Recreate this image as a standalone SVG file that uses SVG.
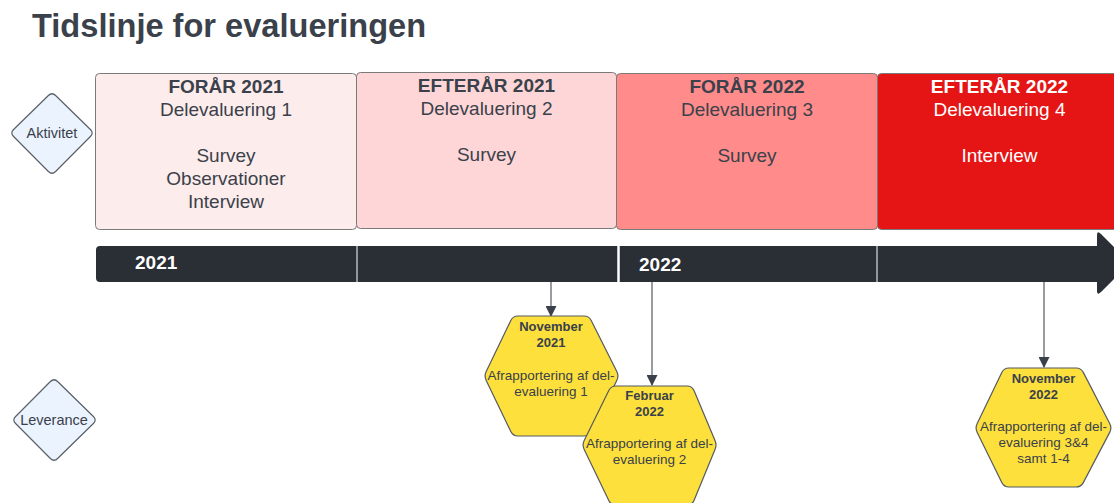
<svg xmlns="http://www.w3.org/2000/svg" width="1114" height="503" viewBox="0 0 1114 503">
<style>
text{font-family:"Liberation Sans",Arial,sans-serif;fill:#3a414a;text-anchor:middle}
.title{font-size:32.6px;font-weight:bold;text-anchor:start}
.hd{font-size:19px;font-weight:bold}
.bt{font-size:19px}
.w{fill:#ffffff}
.box{stroke:#7a7a7a;stroke-width:1}
.hex{fill:#fde03c;stroke:#555a60;stroke-width:1.2;stroke-linejoin:round}
.hb{font-size:13px;font-weight:bold}
.ht{font-size:13.5px}
.dia{fill:#ebf3ff;stroke:#5a5f66;stroke-width:1.2;stroke-linejoin:round}
.dt{font-size:14.5px}
.yr{font-size:19px;font-weight:bold;fill:#ffffff;text-anchor:start}
.conn{stroke:#555a60;stroke-width:1.2;fill:none}
</style>
<defs>
<marker id="ah" markerWidth="11" markerHeight="11" refX="10" refY="5.5" orient="auto" markerUnits="userSpaceOnUse">
<path d="M0,0 L11,5.5 L0,11 Z" fill="#3a414a"/>
</marker>
</defs>
<rect width="1114" height="503" fill="#ffffff"/>
<text class="title" x="32" y="37">Tidslinje for evalueringen</text>

<g id="aktivitet">
<path class="dia" d="M48.4,95.5 Q52,92 55.6,95.5 L90.4,129.5 Q94,133 90.4,136.5 L55.6,171.5 Q52,175 48.4,171.5 L13.6,136.5 Q10,133 13.6,129.5 Z"/>
<text class="dt" x="52" y="138">Aktivitet</text>
</g>
<g id="leverance">
<path class="dia" d="M50.4,381.5 Q54,378 57.6,381.5 L93.4,416.5 Q97,420 93.4,423.5 L57.6,458.5 Q54,462 50.4,458.5 L15.6,423.5 Q12,420 15.6,416.5 Z"/>
<text class="dt" x="54" y="425">Leverance</text>
</g>

<g id="box1">
<rect class="box" x="95.5" y="73.5" width="261" height="156" rx="4" fill="#fdecec"/>
<text class="hd" x="226" y="93">FORÅR 2021</text>
<text class="bt" x="226" y="116">Delevaluering 1</text>
<text class="bt" x="226" y="162">Survey</text>
<text class="bt" x="226" y="185">Observationer</text>
<text class="bt" x="226" y="208">Interview</text>
</g>
<g id="box2">
<rect class="box" x="356.5" y="72.5" width="260" height="156" rx="4" fill="#ffd6d7"/>
<text class="hd" x="486.5" y="92">EFTERÅR 2021</text>
<text class="bt" x="486.5" y="115">Delevaluering 2</text>
<text class="bt" x="486.5" y="161">Survey</text>
</g>
<g id="box3">
<rect class="box" x="616.5" y="73.5" width="261" height="156" rx="4" fill="#ff8b8b"/>
<text class="hd" x="747" y="93">FORÅR 2022</text>
<text class="bt" x="747" y="116">Delevaluering 3</text>
<text class="bt" x="747" y="162">Survey</text>
</g>
<g id="box4">
<rect class="box" x="877.5" y="73.5" width="245" height="156" rx="4" fill="#e61515"/>
<text class="hd w" x="999.5" y="93">EFTERÅR 2022</text>
<text class="bt w" x="999.5" y="116">Delevaluering 4</text>
<text class="bt w" x="999.5" y="162">Interview</text>
</g>

<g id="timeline">
<path d="M100,246 L1097,246 L1097,235 Q1097,230 1101,234 L1127,260 Q1130,263 1127,266 L1101,292 Q1097,296 1097,291 L1097,282 L100,282 Q96,282 96,278 L96,250 Q96,246 100,246 Z" fill="#2a2e35"/>
<line x1="357" y1="246" x2="357" y2="282" stroke="#ffffff" stroke-width="1"/>
<line x1="618.5" y1="246" x2="618.5" y2="282" stroke="#ffffff" stroke-width="2.5"/>
<line x1="877" y1="246" x2="877" y2="282" stroke="#ffffff" stroke-width="1"/>
<text class="yr" x="135" y="269">2021</text>
<text class="yr" x="639" y="271">2022</text>
</g>

<g id="connectors">
<line class="conn" x1="551" y1="282" x2="551" y2="316" marker-end="url(#ah)"/>
<line class="conn" x1="652" y1="282" x2="652" y2="385" marker-end="url(#ah)"/>
<line class="conn" x1="1044" y1="282" x2="1044" y2="367" marker-end="url(#ah)"/>
</g>

<g id="hex1">
<path class="hex" d="M518,316 L584,316 Q589,316 591.2,320.5 L616.8,371.5 Q619,376 616.8,380.5 L591.2,431.5 Q589,436 584,436 L518,436 Q513,436 510.8,431.5 L486.2,380.5 Q484,376 486.2,371.5 L510.8,320.5 Q513,316 518,316 Z"/>
<text class="hb" x="551" y="331">November</text>
<text class="hb" x="551" y="347">2021</text>
<text class="ht" x="551" y="380">Afrapportering af del-</text>
<text class="ht" x="551" y="396">evaluering 1</text>
</g>
<g id="hex2">
<path class="hex" d="M616,386 L687,386 Q692,386 694,390.6 L715,440.4 Q717,445 715,449.6 L694,500.4 Q692,505 687,505 L616,505 Q611,505 608.8,500.5 L584.2,449.5 Q582,445 584.2,440.5 L608.8,390.5 Q611,386 616,386 Z"/>
<text class="hb" x="649.5" y="400">Februar</text>
<text class="hb" x="649.5" y="416">2022</text>
<text class="ht" x="649.5" y="448">Afrapportering af del-</text>
<text class="ht" x="649.5" y="464">evaluering 2</text>
</g>
<g id="hex3">
<path class="hex" d="M1009,368 L1076,368 Q1081,368 1083.3,372.4 L1109.7,423.6 Q1112,428 1109.7,432.4 L1083.3,482.6 Q1081,487 1076,487 L1009,487 Q1004,487 1001.8,482.5 L977.2,432.5 Q975,428 977.2,423.5 L1001.8,372.5 Q1004,368 1009,368 Z"/>
<text class="hb" x="1043.5" y="383">November</text>
<text class="hb" x="1043.5" y="399">2022</text>
<text class="ht" x="1043.5" y="431">Afrapportering af del-</text>
<text class="ht" x="1043.5" y="447">evaluering 3&amp;4</text>
<text class="ht" x="1043.5" y="463">samt 1-4</text>
</g>
</svg>
